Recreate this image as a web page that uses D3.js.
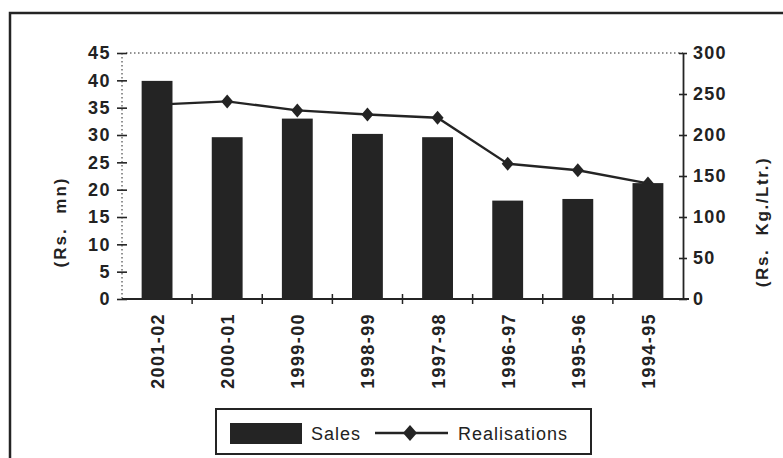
<!DOCTYPE html>
<html>
<head>
<meta charset="utf-8">
<script src="https://cdn.jsdelivr.net/npm/d3@7"></script>
<style>
  html, body { margin: 0; padding: 0; background: #fff; }
  svg { display: block; }
  text { font-family: "Liberation Sans", Arial, sans-serif; fill: #222; }
</style>
</head>
<body>
<svg id="chart" width="783" height="458"></svg>
<script>
// Years, sales (Rs. mn) and realisations (Rs. Kg./Ltr.)
const years = ["2001-02", "2000-01", "1999-00", "1998-99", "1997-98", "1996-97", "1995-96", "1994-95"];
const sales = [39.9, 29.6, 33.0, 30.2, 29.6, 18.0, 18.3, 21.2];
const realisations = [237, 241, 230, 225, 221, 165, 157, 141];
const leftTicks = [0, 5, 10, 15, 20, 25, 30, 35, 40, 45];
const rightTicks = [0, 50, 100, 150, 200, 250, 300];

const ink = "#242424";
const svg = d3.select("#chart");

const plot = { left: 122, right: 683, top: 53, bottom: 299 };

const x = d3.scaleBand().domain(years).range([plot.left, plot.right]).padding(0);
const yL = d3.scaleLinear().domain([0, 45]).range([plot.bottom, plot.top]);
const yR = d3.scaleLinear().domain([0, 300]).range([plot.bottom, plot.top]);

// diamond marker path centred on the origin
const diamond = (w, h) => `M0,${-h} L${w},0 L0,${h} L${-w},0 Z`;

// page frame (top and left edges)
svg.append("path")
  .attr("d", "M10,458 L10,13 L783,13")
  .attr("fill", "none").attr("stroke", ink).attr("stroke-width", 2.5);

// dotted top line of the plot area
svg.append("line")
  .attr("x1", plot.left + 4).attr("x2", plot.right)
  .attr("y1", plot.top).attr("y2", plot.top)
  .attr("stroke", ink).attr("stroke-width", 1).attr("stroke-dasharray", "1.5,2.5");

// left axis: dotted spine with crossing ticks
svg.append("line")
  .attr("x1", plot.left).attr("x2", plot.left)
  .attr("y1", plot.top).attr("y2", plot.bottom)
  .attr("stroke", ink).attr("stroke-width", 1).attr("stroke-dasharray", "1.5,2.5");
const gL = svg.append("g").attr("transform", `translate(${plot.left},0)`)
  .call(d3.axisLeft(yL).tickValues(leftTicks).tickSize(0).tickPadding(11));
gL.select(".domain").remove();
gL.selectAll(".tick text")
  .attr("font-size", 18).attr("font-weight", "bold").attr("letter-spacing", 1.5)
  .attr("font-family", "Liberation Sans, Arial, sans-serif").attr("fill", ink);
gL.selectAll(".tick").append("line")
  .attr("x1", -5).attr("x2", 5).attr("stroke", ink).attr("stroke-width", 1.6);

// right axis: solid spine with crossing ticks
const gR = svg.append("g").attr("transform", `translate(${plot.right},0)`)
  .call(d3.axisRight(yR).tickValues(rightTicks).tickSize(0).tickPadding(10));
gR.select(".domain").attr("stroke", ink).attr("stroke-width", 1.8);
gR.selectAll(".tick text")
  .attr("font-size", 18).attr("font-weight", "bold").attr("letter-spacing", 1.2)
  .attr("font-family", "Liberation Sans, Arial, sans-serif").attr("fill", ink);
gR.selectAll(".tick").append("line")
  .attr("x1", -4).attr("x2", 4).attr("stroke", ink).attr("stroke-width", 1.6);

// realisations line (drawn beneath the bars)
const lineGen = d3.line()
  .x((d, i) => x(years[i]) + x.bandwidth() / 2)
  .y(d => yR(d));
svg.append("path")
  .datum(realisations)
  .attr("d", lineGen)
  .attr("fill", "none").attr("stroke", ink).attr("stroke-width", 2.4);
svg.append("g").selectAll("path")
  .data(realisations)
  .join("path")
  .attr("d", diamond(6, 7))
  .attr("transform", (d, i) => `translate(${x(years[i]) + x.bandwidth() / 2},${yR(d)})`)
  .attr("fill", ink);

// sales bars
const barW = x.bandwidth() * 0.44;
svg.append("g").selectAll("rect")
  .data(sales)
  .join("rect")
  .attr("x", (d, i) => x(years[i]) + (x.bandwidth() - barW) / 2)
  .attr("width", barW)
  .attr("y", d => yL(d))
  .attr("height", d => yL(0) - yL(d))
  .attr("fill", ink);

// category axis
const gX = svg.append("g").attr("transform", `translate(0,${plot.bottom})`);
gX.append("line")
  .attr("x1", plot.left).attr("x2", plot.right + 6)
  .attr("stroke", ink).attr("stroke-width", 2);
gX.selectAll("line.tk")
  .data(years.slice(1))
  .join("line").attr("class", "tk")
  .attr("x1", d => x(d)).attr("x2", d => x(d))
  .attr("y1", -5).attr("y2", 5)
  .attr("stroke", ink).attr("stroke-width", 1.5);
gX.selectAll("text")
  .data(years)
  .join("text")
  .attr("transform", d => `translate(${x(d) + x.bandwidth() / 2 + 7},14) rotate(-90)`)
  .attr("text-anchor", "end")
  .attr("font-size", 18).attr("font-weight", "bold").attr("letter-spacing", 1.4)
  .attr("fill", ink)
  .text(d => d);

// axis titles
svg.append("text")
  .attr("transform", "translate(66,222) rotate(-90)")
  .attr("text-anchor", "middle")
  .attr("font-size", 17).attr("font-weight", "bold").attr("letter-spacing", 2).attr("word-spacing", 7)
  .attr("fill", ink)
  .text("(Rs. mn)");
svg.append("text")
  .attr("transform", "translate(768,222) rotate(-90)")
  .attr("text-anchor", "middle")
  .attr("font-size", 17).attr("font-weight", "bold").attr("letter-spacing", 1.6).attr("word-spacing", 7)
  .attr("fill", ink)
  .text("(Rs. Kg./Ltr.)");

// legend
const lg = svg.append("g");
lg.append("rect")
  .attr("x", 216).attr("y", 409).attr("width", 375).attr("height", 45)
  .attr("fill", "#fff").attr("stroke", ink).attr("stroke-width", 2);
lg.append("rect")
  .attr("x", 230).attr("y", 423).attr("width", 72).attr("height", 21)
  .attr("fill", ink);
lg.append("text")
  .attr("x", 311).attr("y", 440)
  .attr("font-size", 18).attr("letter-spacing", 1)
  .attr("fill", ink).text("Sales");
lg.append("line")
  .attr("x1", 375).attr("x2", 448).attr("y1", 433).attr("y2", 433)
  .attr("stroke", ink).attr("stroke-width", 2.4);
lg.append("path")
  .attr("d", diamond(7, 8))
  .attr("transform", "translate(410,433)")
  .attr("fill", ink);
lg.append("text")
  .attr("x", 458).attr("y", 440)
  .attr("font-size", 18).attr("letter-spacing", 1)
  .attr("fill", ink).text("Realisations");
</script>
</body>
</html>
